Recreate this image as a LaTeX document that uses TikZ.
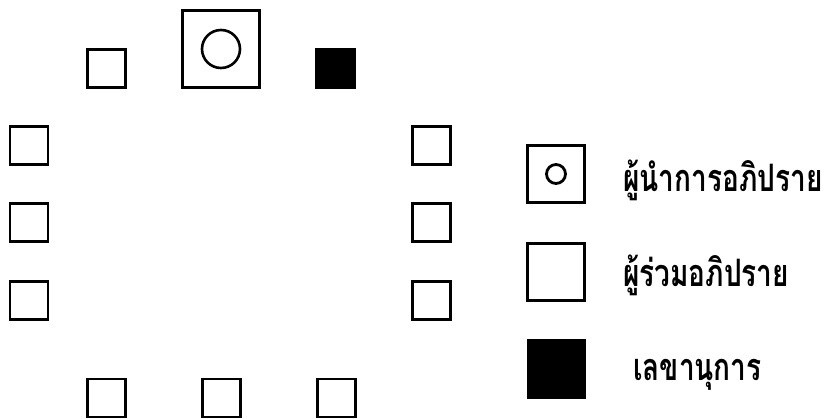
\documentclass[tikz,border=0pt]{standalone}
\usepackage{fontspec}
\newfontfamily\thaifont[Script=Thai]{Loma}
\tikzset{
	seat/.style = {draw, line width = 2.8pt, minimum size = 38pt, inner sep = 0pt},
	chair/.style = {seat, minimum size = 77pt},
	clerk/.style = {seat, fill = black},
	keybox/.style = {seat, minimum size = 57pt},
	keytext/.style = {anchor = base west, inner sep = 0pt, yscale = 1.35, transform shape, font = \thaifont\bfseries\fontsize{28}{32}\selectfont}
}
\begin{document}
\begin{tikzpicture}[x = 1pt, y = -1pt]
	\useasboundingbox (0, 0) rectangle (826, 419);
	\def\cl{29} \def\cr{431.5}
	\node[chair] (leader) at (221, 49) {};
	\draw[line width = 2.6pt] (leader.center) circle (19pt);
	\node[clerk] (secretary) at (335.5, 68.5) {};
	\foreach \n/\x/\y in {top/106.5/68.5, left1/\cl/145.5, left2/\cl/222.5, left3/\cl/300.5, right1/\cr/145.5, right2/\cr/222.5, right3/\cr/300.5, bottom1/106.5/398, bottom2/221.5/398, bottom3/336.5/398}
	\node[seat] (\n) at (\x, \y) {};
	\node[keybox] (keyleader) at (556, 174) {};
	\draw[line width = 2.8pt] (keyleader.center) circle (9.5pt);
	\node[keybox] (keyseat) at (556, 272) {};
	\node[keybox, fill = black] (keyclerk) at (556.5, 369) {};
	\node[keytext] (leadertext) at (623, 192) {ผู้นำการอภิปราย};
	\node[keytext] (seattext) at (623, 287) {ผู้ร่วมอภิปราย};
	\node[keytext] (clerktext) at (633, 380) {เลขานุการ};
\end{tikzpicture}
\end{document}
